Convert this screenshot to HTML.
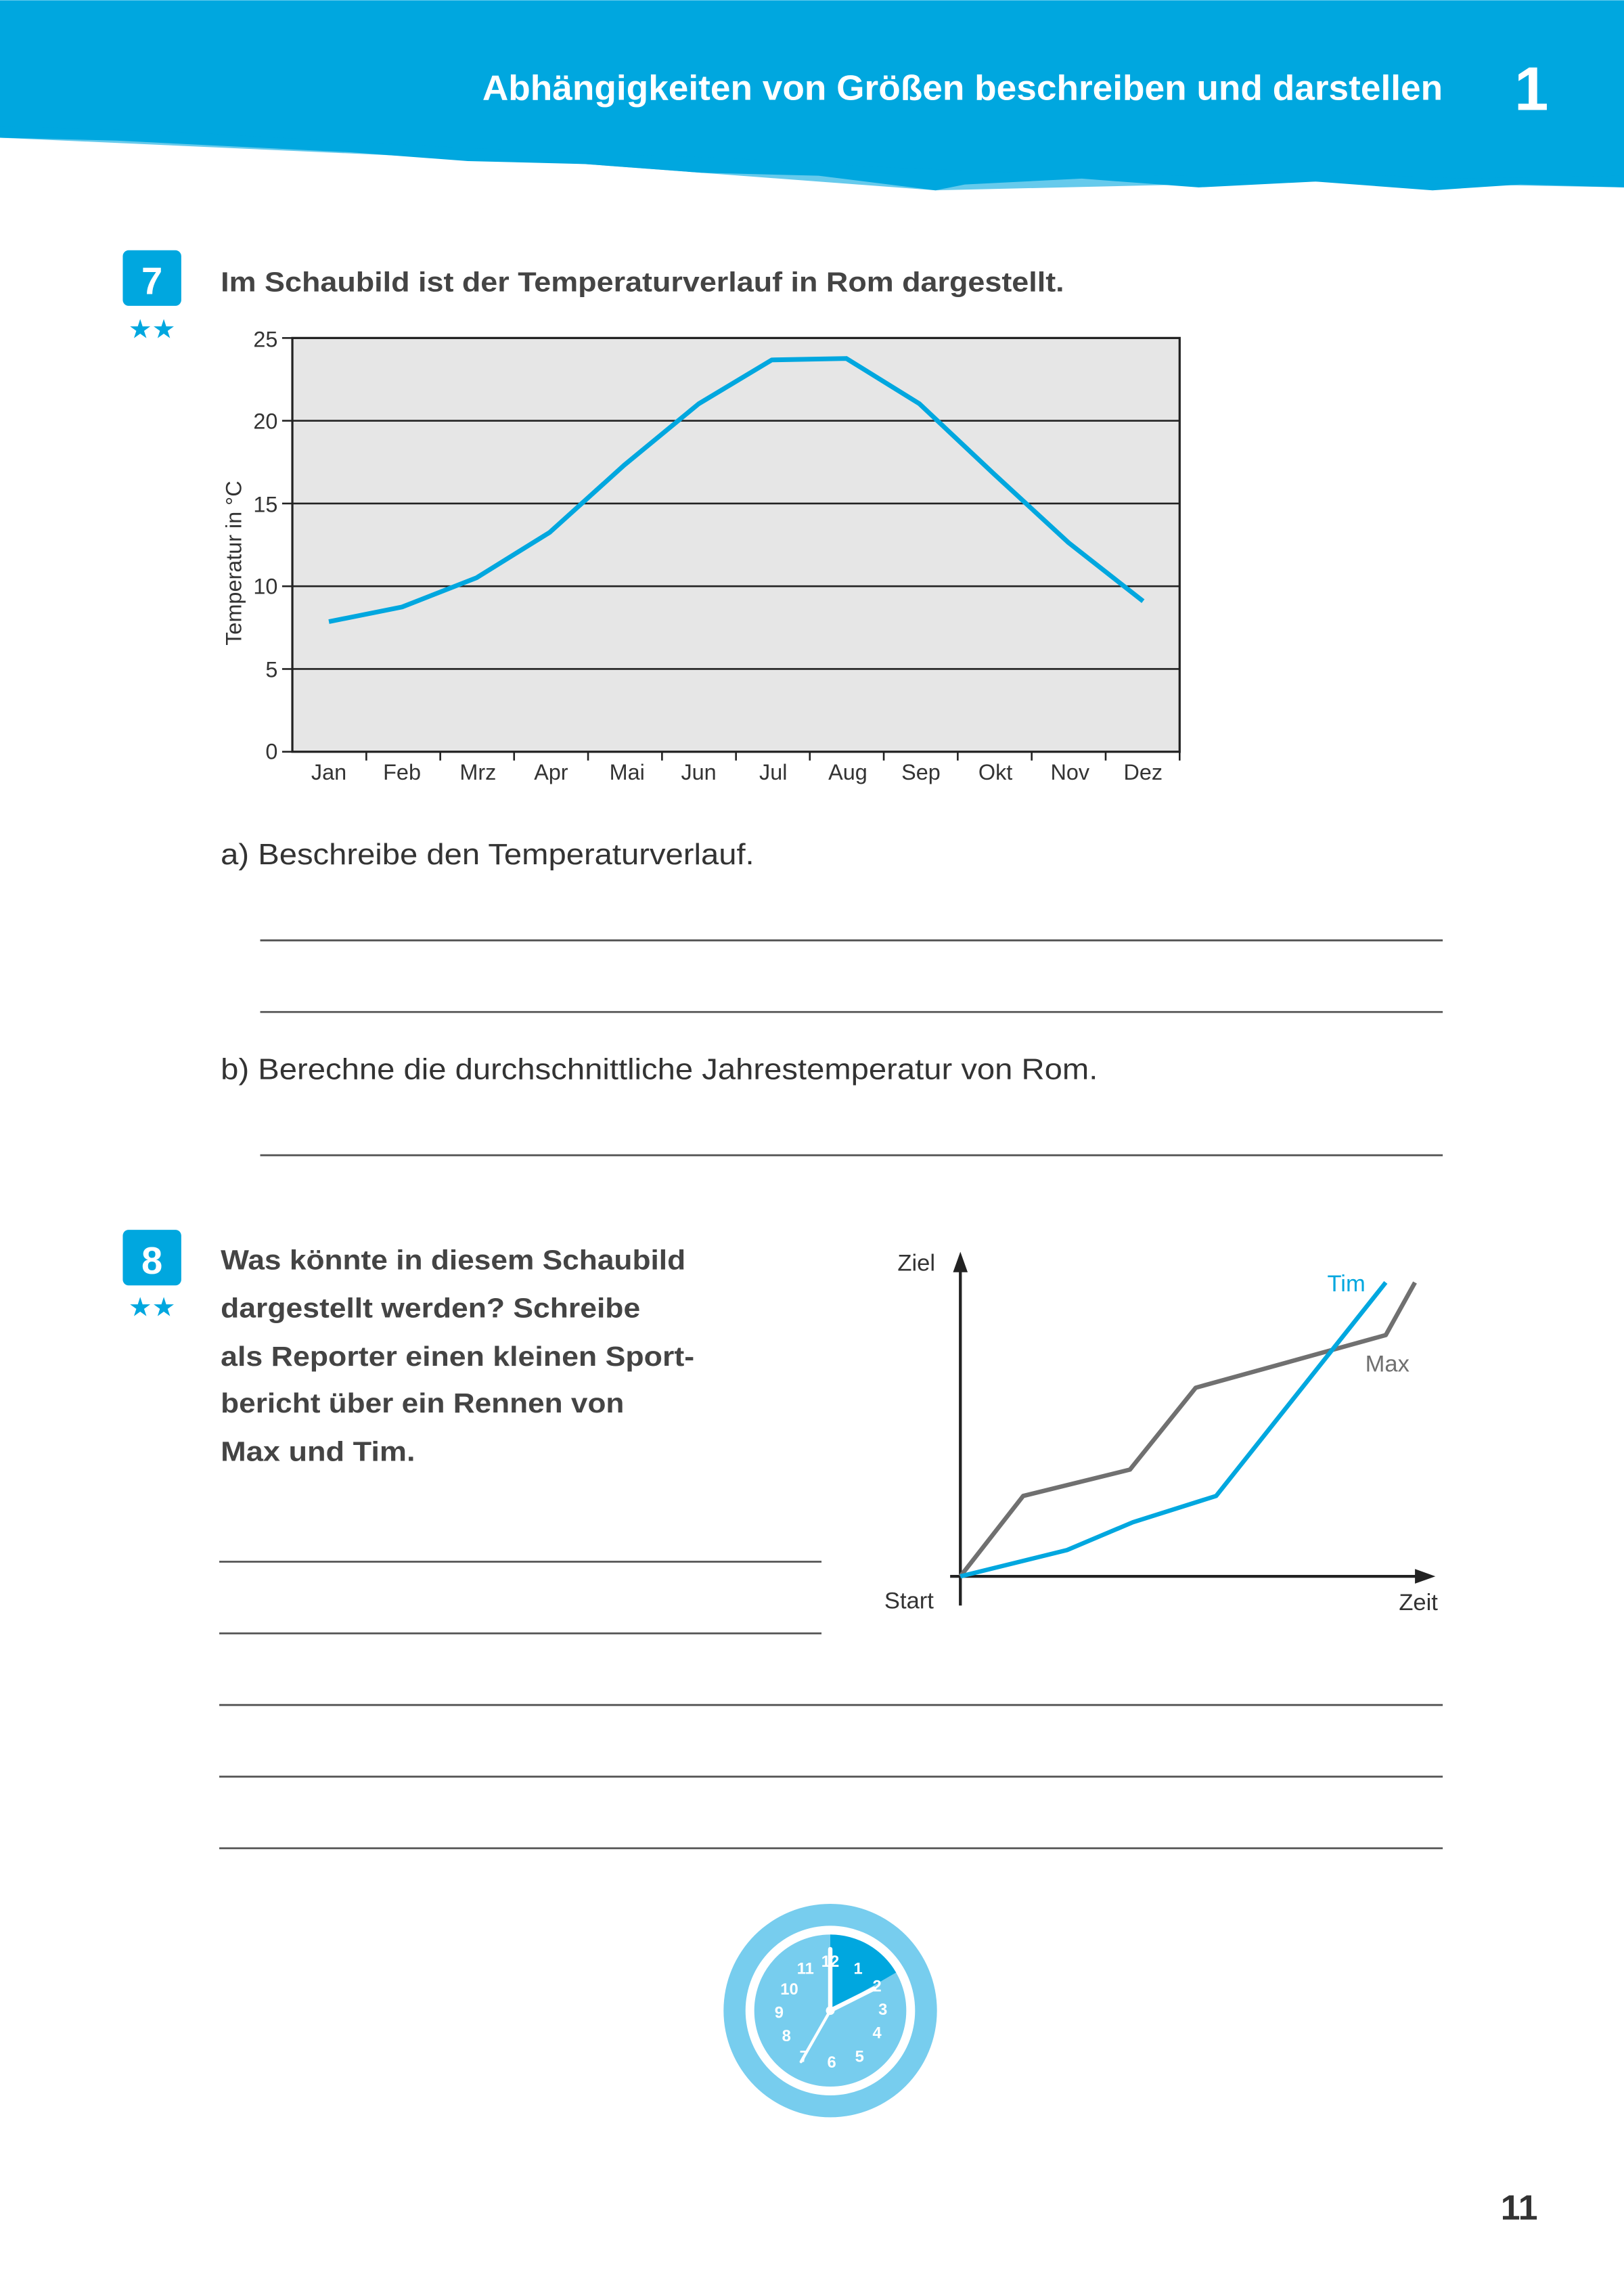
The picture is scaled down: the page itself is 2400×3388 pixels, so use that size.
<!DOCTYPE html>
<html><head><meta charset="utf-8"><style>
html,body{margin:0;padding:0;background:#fff}
svg{display:block}
text{font-family:"Liberation Sans","DejaVu Sans",sans-serif}
</style></head><body>
<svg width="2400" height="3388" viewBox="0 0 1111 1568" xmlns="http://www.w3.org/2000/svg">
<rect width="1111" height="1568" fill="#fff"/>
<path d="M0 0H1111V128 L1040 126 L980 130 L900 124 L820 128 L740 122 L660 126 L640 130 L560 120 L480 118 L400 112 L320 110 L240 104 L160 100 L80 96 L0 94Z" fill="#00a7df"/>
<path d="M0 86 L120 90 L260 98 L380 104 L500 108 L600 114 L700 118 L800 120 L900 118 L1000 122 L1111 120 L1111 128 L900 124 L640 130 L400 112 L0 94Z" fill="#00a7df" opacity="0.6"/>
<text x="330" y="68" font-size="24" font-weight="bold" fill="#fff" textLength="657" lengthAdjust="spacingAndGlyphs">Abhängigkeiten von Größen beschreiben und darstellen</text>
<text x="1036" y="75" font-size="42" font-weight="bold" fill="#fff">1</text>

<rect x="84" y="171" width="40" height="38" rx="4" fill="#00a7df"/>
<text x="104" y="201" font-size="26" font-weight="bold" fill="#fff" text-anchor="middle">7</text>
<text x="104" y="231" font-size="18" fill="#00a7df" text-anchor="middle">★★</text>
<text x="151" y="199" font-size="19" font-weight="bold" fill="#444" textLength="577" lengthAdjust="spacingAndGlyphs">Im Schaubild ist der Temperaturverlauf in Rom dargestellt.</text>

<rect x="200" y="231" width="607" height="283" fill="#e6e6e6" stroke="#222" stroke-width="1.5"/>
<g stroke="#222" stroke-width="1.2">
<line x1="200" y1="287.6" x2="807" y2="287.6"/><line x1="200" y1="344.2" x2="807" y2="344.2"/>
<line x1="200" y1="400.8" x2="807" y2="400.8"/><line x1="200" y1="457.4" x2="807" y2="457.4"/>
<line x1="193" y1="231" x2="200" y2="231"/><line x1="193" y1="287.6" x2="200" y2="287.6"/><line x1="193" y1="344.2" x2="200" y2="344.2"/><line x1="193" y1="400.8" x2="200" y2="400.8"/><line x1="193" y1="457.4" x2="200" y2="457.4"/><line x1="193" y1="514" x2="200" y2="514"/>
<line x1="250.6" y1="514" x2="250.6" y2="520"/><line x1="301.2" y1="514" x2="301.2" y2="520"/><line x1="351.7" y1="514" x2="351.7" y2="520"/><line x1="402.3" y1="514" x2="402.3" y2="520"/><line x1="452.9" y1="514" x2="452.9" y2="520"/><line x1="503.5" y1="514" x2="503.5" y2="520"/><line x1="554" y1="514" x2="554" y2="520"/><line x1="604.6" y1="514" x2="604.6" y2="520"/><line x1="655.2" y1="514" x2="655.2" y2="520"/><line x1="705.8" y1="514" x2="705.8" y2="520"/><line x1="756.4" y1="514" x2="756.4" y2="520"/><line x1="807" y1="514" x2="807" y2="520"/>
</g>
<g font-size="15" fill="#333" text-anchor="end">
<text x="190" y="237">25</text><text x="190" y="293">20</text><text x="190" y="350">15</text><text x="190" y="406">10</text><text x="190" y="463">5</text><text x="190" y="519">0</text>
</g>
<text transform="translate(165 385) rotate(-90)" font-size="15" fill="#333" text-anchor="middle">Temperatur in °C</text>
<g font-size="15" fill="#333" text-anchor="middle">
<text x="225" y="533">Jan</text><text x="275" y="533">Feb</text><text x="327" y="533">Mrz</text><text x="377" y="533">Apr</text><text x="429" y="533">Mai</text><text x="478" y="533">Jun</text><text x="529" y="533">Jul</text><text x="580" y="533">Aug</text><text x="630" y="533">Sep</text><text x="681" y="533">Okt</text><text x="732" y="533">Nov</text><text x="782" y="533">Dez</text>
</g>
<polyline points="225,425 275,415 326,395 376,364 427,318 478,276 528,246 579,245 629,276 680,324 731,371 782,411" fill="none" stroke="#00a7df" stroke-width="3.2" stroke-linejoin="round"/>

<g font-size="20" fill="#333">
<text x="151" y="591" textLength="365" lengthAdjust="spacingAndGlyphs">a)  Beschreibe den Temperaturverlauf.</text>
<text x="151" y="738" textLength="600" lengthAdjust="spacingAndGlyphs">b)  Berechne die durchschnittliche Jahrestemperatur von Rom.</text>
</g>
<g stroke="#555" stroke-width="1.3">
<line x1="178" y1="643" x2="987" y2="643"/><line x1="178" y1="692" x2="987" y2="692"/><line x1="178" y1="790" x2="987" y2="790"/>
<line x1="150" y1="1068" x2="562" y2="1068"/><line x1="150" y1="1117" x2="562" y2="1117"/>
<line x1="150" y1="1166" x2="987" y2="1166"/><line x1="150" y1="1215" x2="987" y2="1215"/><line x1="150" y1="1264" x2="987" y2="1264"/>
</g>

<rect x="84" y="841" width="40" height="38" rx="4" fill="#00a7df"/>
<text x="104" y="871" font-size="26" font-weight="bold" fill="#fff" text-anchor="middle">8</text>
<text x="104" y="900" font-size="18" fill="#00a7df" text-anchor="middle">★★</text>
<g font-size="19" font-weight="bold" fill="#444">
<text x="151" y="868" textLength="318" lengthAdjust="spacingAndGlyphs">Was könnte in diesem Schaubild</text>
<text x="151" y="901" textLength="287" lengthAdjust="spacingAndGlyphs">dargestellt werden? Schreibe</text>
<text x="151" y="934" textLength="324" lengthAdjust="spacingAndGlyphs">als Reporter einen kleinen Sport-</text>
<text x="151" y="966" textLength="276" lengthAdjust="spacingAndGlyphs">bericht über ein Rennen von</text>
<text x="151" y="999" textLength="133" lengthAdjust="spacingAndGlyphs">Max und Tim.</text>
</g>
<line x1="657" y1="1098" x2="657" y2="866" stroke="#222" stroke-width="2"/>
<path d="M652 870 L657 856 L662 870Z" fill="#222"/>
<line x1="650" y1="1078" x2="970" y2="1078" stroke="#222" stroke-width="2"/>
<path d="M968 1073 L982 1078 L968 1083Z" fill="#222"/>
<polyline points="657,1078 700,1023 773,1005 818,949 948,913 968,877" fill="none" stroke="#707070" stroke-width="3" stroke-linejoin="round"/>
<polyline points="657,1078 730,1060 775,1041 832,1023 948,877" fill="none" stroke="#00a7df" stroke-width="3" stroke-linejoin="round"/>
<g font-size="16" fill="#333">
<text x="614" y="869">Ziel</text><text x="605" y="1100">Start</text><text x="957" y="1101">Zeit</text>
<text x="934" y="938" fill="#707070">Max</text><text x="908" y="883" fill="#00a7df">Tim</text>
</g>

<circle cx="568" cy="1375" r="73" fill="#77cdee"/>
<circle cx="568" cy="1375" r="58" fill="#fff"/>
<circle cx="568" cy="1375" r="52" fill="#77cdee"/>
<path d="M568 1375 L568 1323 A52 52 0 0 1 613 1349Z" fill="#00a7df"/>
<g font-size="11" font-weight="bold" fill="#fff" text-anchor="middle">
<text x="568" y="1345">12</text><text x="587" y="1350">1</text><text x="600" y="1362">2</text><text x="604" y="1378">3</text><text x="600" y="1394">4</text><text x="588" y="1410">5</text><text x="569" y="1414">6</text><text x="550" y="1410">7</text><text x="538" y="1396">8</text><text x="533" y="1380">9</text><text x="540" y="1364">10</text><text x="551" y="1350">11</text>
</g>
<g stroke="#fff" stroke-width="3" stroke-linecap="round">
<line x1="568" y1="1375" x2="568" y2="1333"/><line x1="568" y1="1375" x2="598" y2="1360"/><line x1="568" y1="1375" x2="548" y2="1410" stroke-width="2"/>
</g>
<circle cx="568" cy="1375" r="3" fill="#fff"/>

<text x="1052" y="1518" font-size="24" font-weight="bold" fill="#333" text-anchor="end">11</text>
</svg>
</body></html>
